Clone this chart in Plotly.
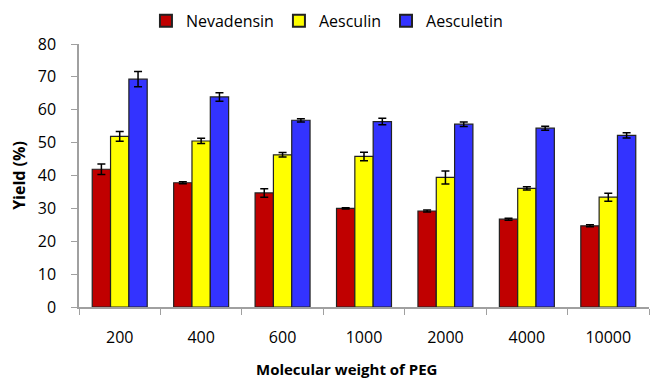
import plotly.graph_objects as go

categories = ["200", "400", "600", "1000", "2000", "4000", "10000"]
nevadensin = [41.9, 37.8, 34.7, 30.0, 29.2, 26.7, 24.7]
nevadensin_err = [1.6, 0.3, 1.3, 0.2, 0.3, 0.3, 0.3]
aesculin = [51.9, 50.5, 46.3, 45.8, 39.4, 36.1, 33.4]
aesculin_err = [1.5, 0.8, 0.7, 1.3, 2.0, 0.5, 1.2]
aesculetin = [69.3, 63.9, 56.8, 56.4, 55.6, 54.4, 52.2]
aesculetin_err = [2.3, 1.3, 0.5, 1.0, 0.7, 0.6, 0.8]

series = [
    ("Nevadensin", nevadensin, nevadensin_err, "#C00000"),
    ("Aesculin", aesculin, aesculin_err, "#FFFF00"),
    ("Aesculetin", aesculetin, aesculetin_err, "#3333FF"),
]

fig = go.Figure()
for name, vals, errs, color in series:
    fig.add_trace(go.Bar(
        name=name, x=categories, y=vals,
        marker=dict(color=color, line=dict(color="#222222", width=1.2)),
        error_y=dict(type="data", array=errs, visible=True, color="black",
                     thickness=1.5, width=4),
    ))

font_family = "Open Sans, Liberation Sans, sans-serif"
fig.update_layout(
    width=650, height=382,
    margin=dict(l=79, r=1, t=44, b=75, autoexpand=False),
    paper_bgcolor="white", plot_bgcolor="white",
    barmode="group", bargap=0.325, bargroupgap=0,
    font=dict(family=font_family, size=16, color="black"),
    legend=dict(orientation="h", x=0.503, xanchor="center", xref="container",
                y=0.99, yanchor="top", yref="container",
                font=dict(size=16), traceorder="normal",
                itemsizing="constant", itemwidth=30),
    showlegend=True,
    xaxis=dict(
        type="category", showline=True, linecolor="#A0A0A0", linewidth=1.5,
        ticks="outside", ticklen=6, tickcolor="#A0A0A0", tickson="boundaries",
        tickfont=dict(size=16), showgrid=False, zeroline=False,
        ticklabelstandoff=15, automargin=False,
    ),
    yaxis=dict(
        range=[0, 80], dtick=10, showline=True, linecolor="#A0A0A0", linewidth=1.5,
        ticks="outside", ticklen=6, tickcolor="#A0A0A0",
        tickfont=dict(size=16), showgrid=False, zeroline=False,
        ticklabelstandoff=12, automargin=False,
        title=dict(text="<b>Yield (%)</b>", font=dict(size=16), standoff=8),
    ),
    annotations=[
        dict(text="<b>Molecular weight of PEG</b>", xref="paper", yref="paper",
             x=0.47, y=-0.19, xanchor="center", yanchor="top", showarrow=False,
             font=dict(size=15)),
    ],
)

fig.write_html("out.html")
